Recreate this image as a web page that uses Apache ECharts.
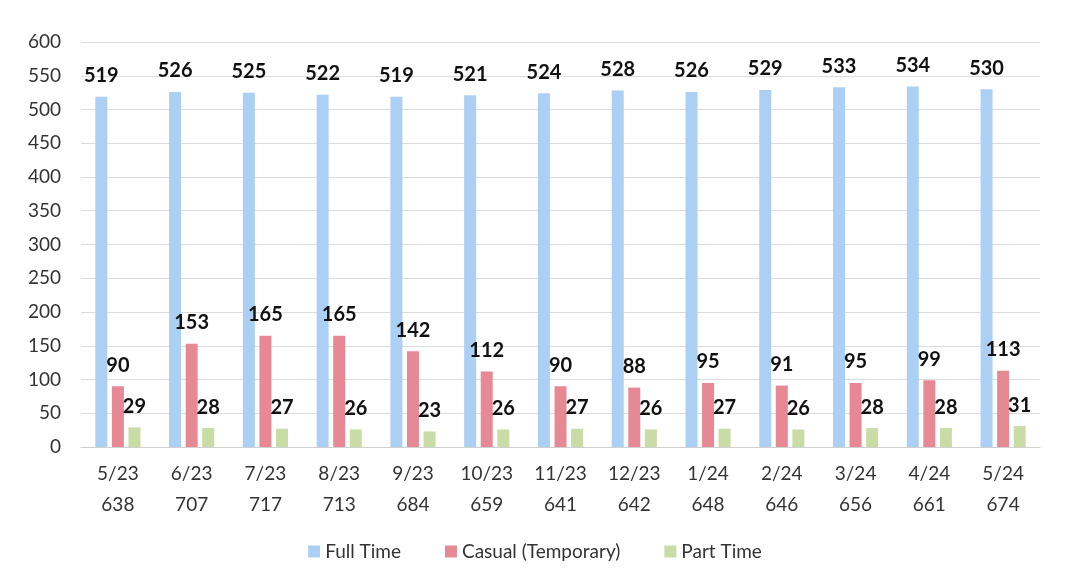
<!DOCTYPE html>
<html><head><meta charset="utf-8">
<script src="https://cdn.jsdelivr.net/npm/echarts@6/dist/echarts.min.js"></script>
<style>html,body{margin:0;padding:0;background:#fff}#c{width:1070px;height:588px}</style>
</head><body><div id="c"></div>
<script>
const months = ['5/23','6/23','7/23','8/23','9/23','10/23','11/23','12/23','1/24','2/24','3/24','4/24','5/24'];
const totals = [638,707,717,713,684,659,641,642,648,646,656,661,674];
const fullTime = [519,526,525,522,519,521,524,528,526,529,533,534,530];
const casual = [90,153,165,165,142,112,90,88,95,91,95,99,113];
const partTime = [29,28,27,26,23,26,27,26,27,26,28,28,31];
const yTicks = {min:0, max:600, interval:50};

const categories = months.map((m,i)=>m+'\n'+totals[i]);
const font = 'Lato, "Open Sans", sans-serif';
const lbl = {show:true, position:'top', distance:11, color:'#111', fontWeight:'bold', fontSize:20, fontFamily:font};
const chart = echarts.init(document.getElementById('c'));
chart.setOption({
  animation:false,
  backgroundColor:'#fff',
  textStyle:{fontFamily:font},
  grid:{left:81, right:30, top:42, bottom:141, containLabel:false},
  legend:{bottom:22, left:'center', itemWidth:12, itemHeight:12, itemGap:44, icon:'rect',
    textStyle:{fontSize:19, color:'#333', fontFamily:font},
    data:['Full Time','Casual (Temporary)','Part Time']},
  xAxis:{type:'category', data:categories,
    axisLine:{lineStyle:{color:'#d0d0d0'}}, axisTick:{show:false},
    axisLabel:{fontSize:19, color:'#333', lineHeight:31, margin:11, fontFamily:font}},
  yAxis:{type:'value', min:yTicks.min, max:yTicks.max, interval:yTicks.interval,
    axisLine:{show:false}, axisTick:{show:false},
    splitLine:{lineStyle:{color:'#dcdcdc'}},
    axisLabel:{fontSize:19, color:'#333', margin:20, fontFamily:font}},
  series:[
    {name:'Full Time', type:'bar', data:fullTime, barWidth:12, barGap:'38%', itemStyle:{color:'#acd0f3'}, label:lbl},
    {name:'Casual (Temporary)', type:'bar', data:casual, barWidth:12, barGap:'38%', itemStyle:{color:'#e68994'}, label:lbl},
    {name:'Part Time', type:'bar', data:partTime, barWidth:12, barGap:'38%', itemStyle:{color:'#c9dca5'}, label:lbl}
  ]
});
</script></body></html>
